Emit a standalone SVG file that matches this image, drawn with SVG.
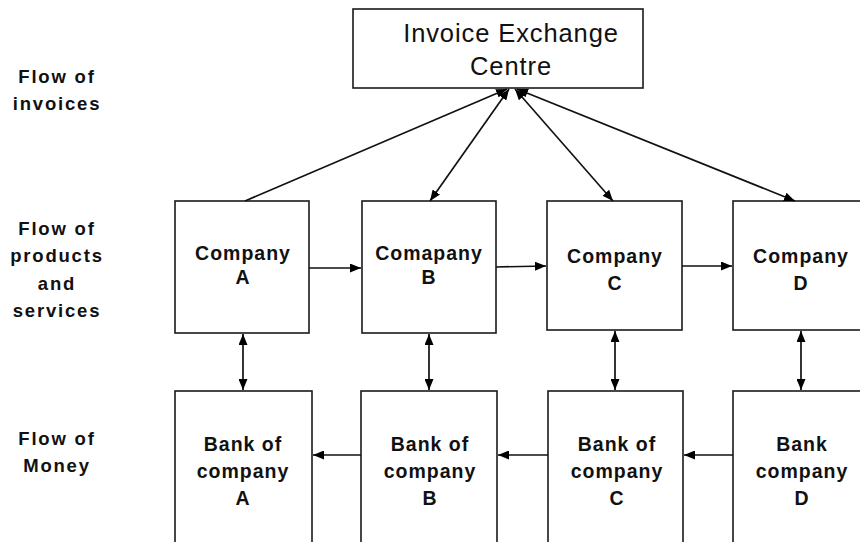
<svg xmlns="http://www.w3.org/2000/svg" width="860" height="542" viewBox="0 0 860 542">
<defs>
<marker id="ah" viewBox="0 0 11 9" refX="11" refY="4.5" markerWidth="11" markerHeight="9" markerUnits="userSpaceOnUse" orient="auto-start-reverse">
<path d="M0,0 L11,4.5 L0,9 Z" fill="#000"/>
</marker>
<style>
.box{fill:#fff;stroke:#1a1a1a;stroke-width:1.6}
.lbl{font-family:"Liberation Sans",Arial,sans-serif;font-weight:bold;font-size:18.5px;letter-spacing:1.8px;fill:#111;text-anchor:middle}
.nt{font-family:"Liberation Sans",Arial,sans-serif;font-weight:bold;font-size:19.5px;letter-spacing:1px;fill:#111;text-anchor:middle}
.big{font-family:"Liberation Sans",Arial,sans-serif;font-size:25.5px;letter-spacing:0.9px;fill:#111;text-anchor:middle}
.c{fill:none;stroke:#111;stroke-width:1.7}
.one{marker-end:url(#ah)}
.two{marker-start:url(#ah);marker-end:url(#ah)}
</style>
</defs>
<rect width="860" height="542" fill="#fff"/>
<g id="labels">
<text class="lbl" x="57" y="83">Flow of</text>
<text class="lbl" x="57" y="110">invoices</text>
<text class="lbl" x="57" y="235">Flow of</text>
<text class="lbl" x="57" y="262">products</text>
<text class="lbl" x="57" y="290">and</text>
<text class="lbl" x="57" y="317">services</text>
<text class="lbl" x="57" y="445">Flow of</text>
<text class="lbl" x="57" y="472">Money</text>
</g>
<g id="iec">
<rect class="box" x="353" y="9" width="290" height="79"/>
<text class="big" x="511" y="42">Invoice Exchange</text>
<text class="big" x="511" y="75">Centre</text>
</g>
<g id="companyA">
<rect class="box" x="175" y="201" width="134" height="132"/>
<text class="nt" x="243" y="260">Company</text>
<text class="nt" x="243" y="284">A</text>
</g>
<g id="companyB">
<rect class="box" x="362" y="201" width="134" height="132"/>
<text class="nt" x="429" y="260">Comapany</text>
<text class="nt" x="429" y="284">B</text>
</g>
<g id="companyC">
<rect class="box" x="547" y="201" width="135" height="129"/>
<text class="nt" x="615" y="263">Company</text>
<text class="nt" x="615" y="290">C</text>
</g>
<g id="companyD">
<rect class="box" x="733" y="201" width="140" height="129"/>
<text class="nt" x="801" y="263">Company</text>
<text class="nt" x="801" y="290">D</text>
</g>
<g id="bankA">
<rect class="box" x="175" y="391" width="137" height="160"/>
<text class="nt" x="243" y="451">Bank of</text>
<text class="nt" x="243" y="478">company</text>
<text class="nt" x="243" y="505">A</text>
</g>
<g id="bankB">
<rect class="box" x="361" y="391" width="136" height="160"/>
<text class="nt" x="430" y="451">Bank of</text>
<text class="nt" x="430" y="478">company</text>
<text class="nt" x="430" y="505">B</text>
</g>
<g id="bankC">
<rect class="box" x="548" y="391" width="135" height="160"/>
<text class="nt" x="617" y="451">Bank of</text>
<text class="nt" x="617" y="478">company</text>
<text class="nt" x="617" y="505">C</text>
</g>
<g id="bankD">
<rect class="box" x="733" y="391" width="140" height="160"/>
<text class="nt" x="802" y="451">Bank</text>
<text class="nt" x="802" y="478">company</text>
<text class="nt" x="802" y="505">D</text>
</g>
<g id="connectors">
<line class="c one" x1="245" y1="201" x2="507" y2="89"/>
<line class="c two" x1="430" y1="201" x2="509" y2="89"/>
<line class="c two" x1="613" y1="201" x2="515" y2="89"/>
<line class="c two" x1="795" y1="201" x2="517" y2="89"/>
<line class="c one" x1="309" y1="268" x2="361" y2="268"/>
<line class="c one" x1="496" y1="267" x2="546" y2="266"/>
<line class="c one" x1="682" y1="266" x2="732" y2="266"/>
<line class="c two" x1="243" y1="334" x2="243" y2="390"/>
<line class="c two" x1="429" y1="334" x2="429" y2="390"/>
<line class="c two" x1="615" y1="331" x2="615" y2="390"/>
<line class="c two" x1="801" y1="331" x2="801" y2="390"/>
<line class="c one" x1="361" y1="455" x2="313" y2="455"/>
<line class="c one" x1="548" y1="455" x2="498" y2="455"/>
<line class="c one" x1="733" y1="455" x2="684" y2="455"/>
</g>
</svg>
